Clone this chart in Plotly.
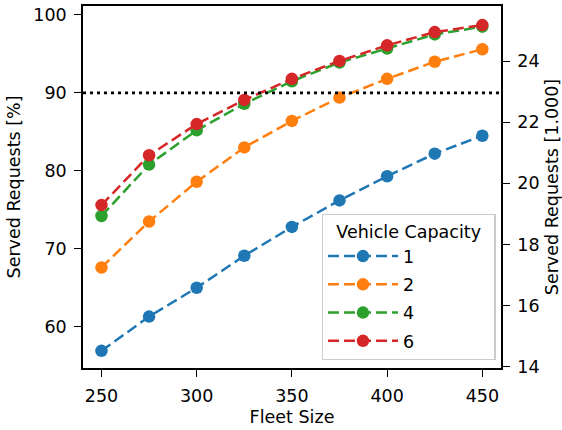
import plotly.graph_objects as go

fleet_size = [250, 275, 300, 325, 350, 375, 400, 425, 450]
cap_1 = [56.9, 61.3, 65.0, 69.1, 72.8, 76.2, 79.3, 82.2, 84.5]
cap_2 = [67.6, 73.5, 78.6, 83.0, 86.4, 89.4, 91.8, 94.0, 95.6]
cap_4 = [74.2, 80.8, 85.2, 88.6, 91.5, 93.9, 95.7, 97.5, 98.5]
cap_6 = [75.6, 82.0, 86.0, 89.1, 91.8, 94.1, 96.1, 97.8, 98.7]
series_names = ["1", "2", "4", "6"]
series_values = [cap_1, cap_2, cap_4, cap_6]
colors = ["#1f77b4", "#ff7f0e", "#2ca02c", "#d62728"]
threshold = 90
left_ticks = [60, 70, 80, 90, 100]
right_ticks = [14, 16, 18, 20, 22, 24]
x_ticks = [250, 300, 350, 400, 450]

fig = go.Figure()
for name, vals, c in zip(series_names, series_values, colors):
    fig.add_trace(go.Scatter(
        x=fleet_size, y=vals, name=name, mode="lines+markers", legendgroup=name,
        line=dict(color=c, width=2.5, dash="11px,5px"),
        marker=dict(color=c, size=12.5, symbol="circle"),
    ))
# invisible trace to bind right axis
fig.add_trace(go.Scatter(x=[None], y=[None], yaxis="y2", showlegend=False, hoverinfo="skip"))

fig.add_shape(type="line", xref="x domain", yref="y", x0=0, x1=1, y0=threshold, y1=threshold,
              line=dict(color="black", width=2.6, dash="3px,4px"))

fam = "DejaVu Sans"
tick_font = dict(family=fam, size=17.5, color="black")
title_font = dict(family=fam, size=17.5, color="black")
axis_common = dict(showgrid=False, zeroline=False, showline=True, linecolor="black",
                   linewidth=1.6, ticks="outside", ticklen=7, tickwidth=1.4,
                   tickcolor="black", tickfont=tick_font, automargin=False,
                   ticklabelstandoff=4)
fig.update_layout(
    width=562, height=430,
    margin=dict(l=83, r=61, t=6, b=62),
    paper_bgcolor="white", plot_bgcolor="white",
    font=title_font,
    showlegend=True,
    xaxis=dict(range=[240.3, 459.8], tickvals=x_ticks, mirror=True,
               title=dict(text="Fleet Size", standoff=6, font=title_font), **axis_common),
    yaxis=dict(range=[54.7, 101.15], tickvals=left_ticks,
               title=dict(text="Served Requests [%]", standoff=8, font=title_font), **axis_common),
    yaxis2=dict(range=[13.96, 25.80], tickvals=right_ticks, overlaying="y", side="right",
                anchor="x",
                title=dict(text="Served Requests [1.000]", standoff=10, font=title_font),
                **axis_common),
    legend=dict(x=0.571, y=0.425, xanchor="left", yanchor="top",
                bgcolor="rgba(255,255,255,0.8)", bordercolor="#cccccc", borderwidth=1.3,
                title=dict(text="\u00a0\u00a0Vehicle Capacity\u00a0\u00a0", side="top center",
                           font=title_font),
                font=title_font, itemwidth=70, tracegroupgap=2.5),
)

fig.write_html("out.html", config={"displayModeBar": False},
               post_script="document.body.style.margin='0';")
